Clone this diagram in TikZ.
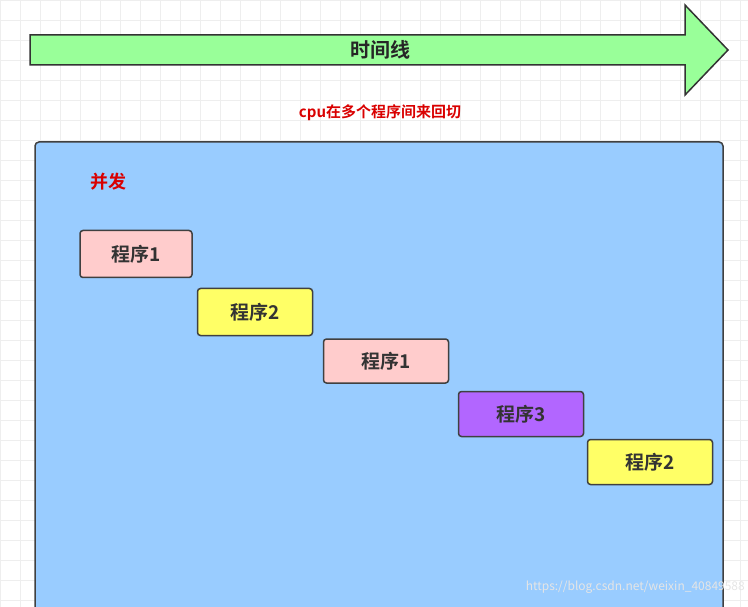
\documentclass[tikz,border=0pt]{standalone}
\usepackage{fontspec}
\setmainfont{Noto Sans CJK SC}[BoldFont={Noto Sans CJK SC Bold}]
\usetikzlibrary{positioning}
\definecolor{arrowgreen}{HTML}{99FF99}
\definecolor{panelblue}{HTML}{99CCFF}
\definecolor{progpink}{HTML}{FFCCCC}
\definecolor{progyellow}{HTML}{FFFF66}
\definecolor{progpurple}{HTML}{B266FF}
\definecolor{gridgray}{HTML}{EEEEEE}
\tikzset{
  prog/.style={draw=black!75,line width=1.5pt,rounded corners=3pt,minimum width=112pt,minimum height=47pt,font=\bfseries\fontsize{19}{22}\selectfont,text=black!80},
  redlabel/.style={text=red!85!black,font=\bfseries}
}
\begin{document}
\begin{tikzpicture}[x=1pt,y=-1pt]
  \useasboundingbox (0,0) rectangle (748,607);
  \draw[gridgray,step=20pt] (0,0) grid (748,607);
  % time line arrow
  \draw[fill=arrowgreen,line width=1.5pt,line join=miter,draw=black!80]
    (30,35) -- (685,35) -- (685,5) -- (728,50) -- (685,95) -- (685,65) -- (30,65) -- cycle;
  \node[font=\bfseries\fontsize{20}{24}\selectfont,text=black!85] (timeline) at (380,50) {时间线};
  \node[redlabel,font=\bfseries\fontsize{15}{18}\selectfont] (cpu) at (380,113) {cpu在多个程序间来回切};
  % panel
  \draw[fill=panelblue,draw=black!75,line width=1.5pt,rounded corners=4pt] (35,625) -- (35,142) -- (723,142) -- (723,625);
  \node[redlabel,font=\bfseries\fontsize{18}{22}\selectfont] (concurrent) at (108,182) {并发};
  \node[prog,fill=progpink]   (p1)  at (136,254) {程序1};
  \node[prog,fill=progyellow,minimum width=115pt] (p2)  at (255,312) {程序2};
  \node[prog,fill=progpink,minimum width=125pt,minimum height=44pt]   (p1b) at (386,361) {程序1};
  \node[prog,fill=progpurple,minimum width=125pt,minimum height=45pt] (p3)  at (521,414) {程序3};
  \node[prog,fill=progyellow,minimum width=125pt,minimum height=45pt] (p2b) at (650,462) {程序2};
  \node[text=black!10,font=\fontsize{12}{14}\selectfont,anchor=east,inner sep=0pt] (mark) at (745,587) {https://blog.csdn.net/weixin\_40849588};
\end{tikzpicture}
\end{document}
